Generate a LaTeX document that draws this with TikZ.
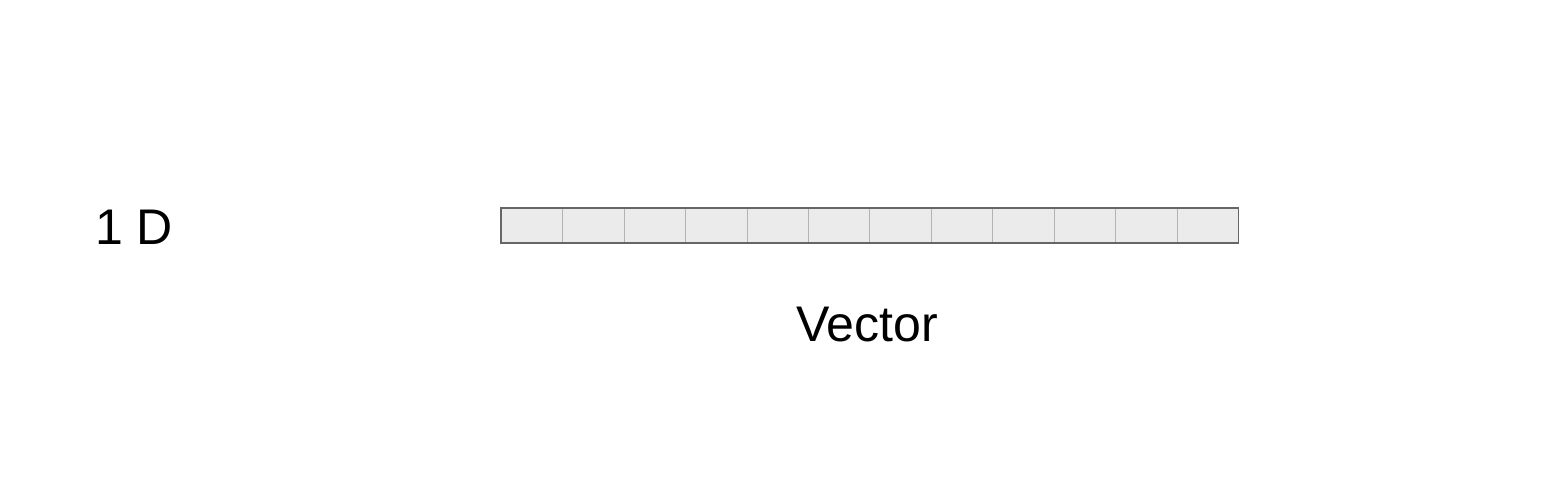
\documentclass[tikz,border=0pt]{standalone}
\usepackage{fontspec}
\setmainfont{Liberation Sans}
\usetikzlibrary{positioning}
\definecolor{cellfill}{HTML}{EBEBEB}
\definecolor{cellline}{HTML}{B3B3B3}
\definecolor{frameline}{HTML}{666666}
\tikzset{node distance=0cm, auto,
  cell/.style={draw=cellline, fill=cellfill, line width=0.5pt, minimum width=1.23cm, minimum height=0.7cm, inner sep=0pt, outer sep=0pt},
  label text/.style={font=\fontsize{28.5}{34}\selectfont, inner sep=0pt, anchor=base}}
\begin{document}
\begin{tikzpicture}[x=0.02cm, y=-0.02cm]
  \useasboundingbox (0,0) rectangle (1558,496);
  \node[cell, anchor=north west] (c1) at (501,208) {};
  \foreach \i [remember=\i as \j (initially 1)] in {2,...,12}
    \node[cell, right=of c\j] (c\i) {};
  \draw[frameline, line width=0.6pt] (c1.north west) rectangle (c12.south east);
  \node[label text] (dim)    at (134,245) {1 D};
  \node[label text] (vector) at (867,342) {Vector};
\end{tikzpicture}
\end{document}
